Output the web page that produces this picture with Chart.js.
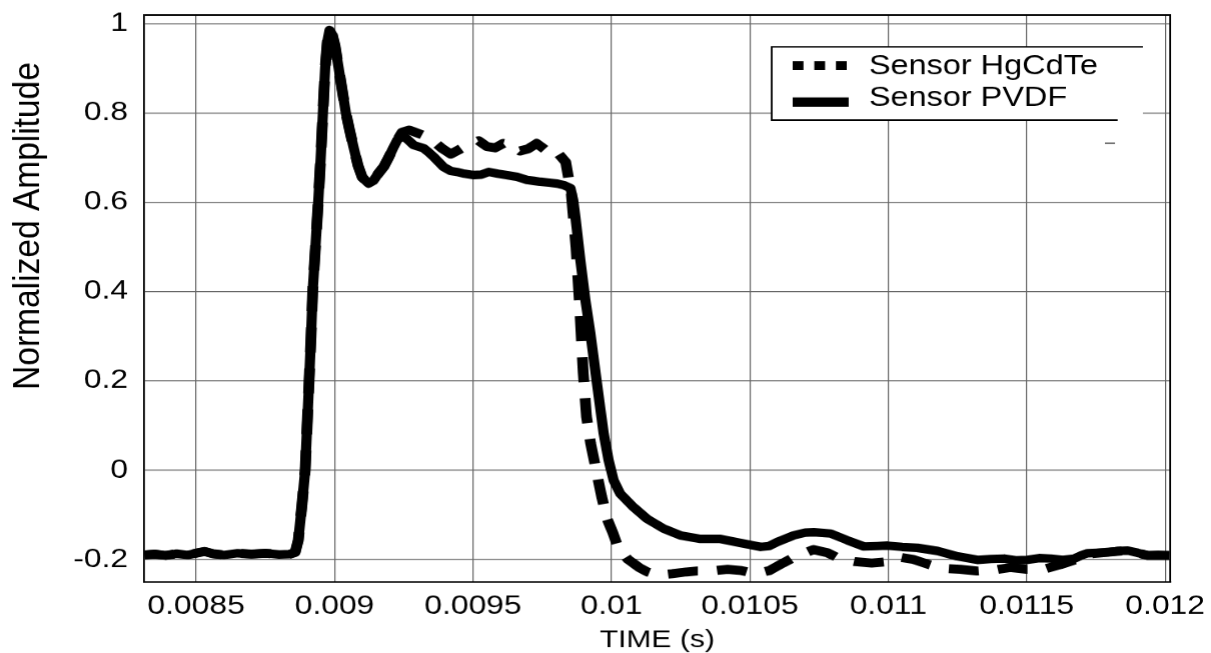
<!DOCTYPE html>
<html>
<head>
<meta charset="utf-8">
<script src="https://cdn.jsdelivr.net/npm/chart.js@4/dist/chart.umd.min.js"></script>
<style>
html,body{margin:0;padding:0;background:#fff;overflow:hidden;}
#wrap{width:1009px;height:653px;transform:scaleX(1.200198);transform-origin:0 0;}
#c{display:block;width:1009px;height:653px;}
</style>
</head>
<body>
<div id="wrap"><canvas id="c" width="1009" height="653"></canvas></div>
<script>
const xTicks = [0.0085, 0.009, 0.0095, 0.01, 0.0105, 0.011, 0.0115, 0.012];
const xTickLabels = ['0.0085', '0.009', '0.0095', '0.01', '0.0105', '0.011', '0.0115', '0.012'];
const yTicks = [-0.2, 0, 0.2, 0.4, 0.6, 0.8, 1];
const yTickLabels = ['-0.2', '0', '0.2', '0.4', '0.6', '0.8', '1'];
const xTitle = 'TIME (s)';
const yTitle = 'Normalized Amplitude';
const seriesNames = ['Sensor HgCdTe', 'Sensor PVDF'];

const pvdfTime = [0.008313,0.008350,0.008390,0.008430,0.008470,0.008500,0.008530,0.008560,0.008600,0.008650,0.008700,0.008750,0.008800,0.008840,0.008858,0.008869,0.008882,0.008894,0.008901,0.008908,0.008915,0.008921,0.008931,0.008941,0.008950,0.008958,0.008966,0.008974,0.008982,0.008992,0.009002,0.009014,0.009028,0.009041,0.009055,0.009070,0.009085,0.009100,0.009123,0.009140,0.009159,0.009178,0.009195,0.009212,0.009226,0.009244,0.009265,0.009286,0.009322,0.009340,0.009358,0.009394,0.009420,0.009442,0.009470,0.009503,0.009530,0.009557,0.009590,0.009623,0.009659,0.009695,0.009720,0.009743,0.009775,0.009804,0.009830,0.009852,0.009862,0.009870,0.009888,0.009906,0.009924,0.009948,0.009972,0.009990,0.010008,0.010032,0.010080,0.010129,0.010189,0.010249,0.010322,0.010394,0.010466,0.010539,0.010570,0.010599,0.010659,0.010700,0.010731,0.010792,0.010852,0.010912,0.010960,0.010997,0.011050,0.011105,0.011178,0.011250,0.011322,0.011370,0.011418,0.011460,0.011503,0.011545,0.011587,0.011630,0.011672,0.011700,0.011720,0.011792,0.011830,0.011865,0.011900,0.011937,0.011975,0.012015];
const pvdfAmp = [-0.190,-0.188,-0.191,-0.187,-0.190,-0.186,-0.182,-0.187,-0.190,-0.186,-0.188,-0.186,-0.189,-0.188,-0.184,-0.157,-0.080,0.000,0.100,0.200,0.300,0.400,0.500,0.600,0.700,0.800,0.900,0.960,0.986,0.975,0.950,0.904,0.850,0.800,0.760,0.720,0.682,0.656,0.642,0.648,0.665,0.680,0.700,0.722,0.739,0.750,0.740,0.728,0.721,0.712,0.702,0.679,0.670,0.668,0.664,0.661,0.662,0.668,0.664,0.661,0.657,0.650,0.648,0.646,0.644,0.642,0.638,0.632,0.605,0.567,0.470,0.381,0.307,0.194,0.082,0.022,-0.023,-0.053,-0.083,-0.109,-0.131,-0.146,-0.154,-0.154,-0.163,-0.172,-0.170,-0.161,-0.146,-0.140,-0.139,-0.142,-0.157,-0.171,-0.170,-0.169,-0.172,-0.174,-0.181,-0.193,-0.201,-0.199,-0.198,-0.202,-0.201,-0.197,-0.198,-0.201,-0.198,-0.190,-0.186,-0.184,-0.181,-0.180,-0.185,-0.191,-0.190,-0.191];

const hgTime = [0.008313,0.008350,0.008390,0.008430,0.008470,0.008500,0.008530,0.008560,0.008600,0.008650,0.008700,0.008750,0.008800,0.008840,0.008858,0.008869,0.008882,0.008894,0.008901,0.008908,0.008915,0.008921,0.008931,0.008941,0.008950,0.008958,0.008966,0.008974,0.008982,0.008992,0.009002,0.009014,0.009028,0.009041,0.009055,0.009070,0.009085,0.009100,0.009123,0.009140,0.009159,0.009178,0.009195,0.009212,0.009226,0.009244,0.009270,0.009300,0.009330,0.009360,0.009390,0.009420,0.009450,0.009480,0.009520,0.009550,0.009580,0.009610,0.009640,0.009670,0.009700,0.009730,0.009760,0.009790,0.009810,0.009835,0.009855,0.009872,0.009885,0.009898,0.009910,0.009925,0.009945,0.009965,0.009985,0.010005,0.010025,0.010060,0.010100,0.010130,0.010170,0.010220,0.010270,0.010310,0.010360,0.010420,0.010470,0.010520,0.010570,0.010620,0.010670,0.010730,0.010780,0.010830,0.010880,0.010940,0.011000,0.011040,0.011090,0.011150,0.011200,0.011260,0.011320,0.011380,0.011440,0.011500,0.011560,0.011620,0.011680,0.011720,0.011792,0.011865,0.011937,0.012015];
const hgAmp = [-0.190,-0.188,-0.191,-0.187,-0.190,-0.186,-0.182,-0.187,-0.190,-0.186,-0.188,-0.186,-0.189,-0.188,-0.184,-0.157,-0.080,0.000,0.100,0.200,0.300,0.400,0.500,0.600,0.700,0.800,0.900,0.960,0.986,0.975,0.950,0.904,0.850,0.800,0.760,0.720,0.682,0.656,0.642,0.648,0.665,0.680,0.700,0.722,0.739,0.757,0.762,0.755,0.748,0.735,0.720,0.708,0.718,0.728,0.738,0.725,0.722,0.732,0.728,0.715,0.720,0.732,0.718,0.702,0.708,0.690,0.620,0.500,0.370,0.220,0.120,0.060,0.000,-0.060,-0.110,-0.140,-0.175,-0.200,-0.218,-0.228,-0.235,-0.232,-0.228,-0.226,-0.226,-0.222,-0.225,-0.232,-0.225,-0.208,-0.192,-0.178,-0.185,-0.200,-0.205,-0.208,-0.205,-0.195,-0.200,-0.212,-0.220,-0.222,-0.226,-0.224,-0.218,-0.222,-0.222,-0.212,-0.200,-0.188,-0.184,-0.180,-0.191,-0.191];

const FONT = "'Liberation Sans', Arial, Helvetica, sans-serif";

const framePlugin = {
  id: 'frame',
  beforeDatasetsDraw(chart) {
    const a = chart.chartArea, ctx = chart.ctx;
    ctx.save();
    ctx.strokeStyle = '#000';
    ctx.lineWidth = 1.5;
    ctx.beginPath();
    ctx.moveTo(a.left, a.top); ctx.lineTo(a.right, a.top); ctx.lineTo(a.right, a.bottom);
    ctx.stroke();
    ctx.restore();
  }
};

const yTitlePlugin = {
  id: 'yTitle',
  afterDraw(chart) {
    const ctx = chart.ctx;
    ctx.save();
    ctx.translate(23.6, 225.8);
    ctx.rotate(-Math.PI / 2);
    ctx.scale(1.08, 1);
    ctx.font = "31px " + FONT;
    ctx.fillStyle = '#000';
    ctx.textAlign = 'center';
    ctx.textBaseline = 'middle';
    ctx.fillText(yTitle, 0, 0);
    ctx.restore();
  }
};

const boxLegendPlugin = {
  id: 'boxLegend',
  afterDraw(chart) {
    const ctx = chart.ctx;
    const ds = chart.data.datasets;
    const L = 642.5, T = 46.7, B = 120, RT = 951.6, RB = 930.6;
    ctx.save();
    ctx.fillStyle = '#fff';
    ctx.fillRect(L, T, RT - L, B - T);
    ctx.strokeStyle = '#000';
    ctx.lineWidth = 1.5;
    ctx.beginPath();
    ctx.moveTo(RT, T); ctx.lineTo(L, T); ctx.lineTo(L, B); ctx.lineTo(RB, B);
    ctx.stroke();
    ctx.lineWidth = 1;
    ctx.beginPath(); ctx.moveTo(920, 143); ctx.lineTo(928.4, 143); ctx.stroke();
    const rows = [65.5, 102];
    const textRows = [66.5, 98.5];
    ds.forEach((d, i) => {
      ctx.save();
      ctx.strokeStyle = d.borderColor;
      ctx.lineWidth = i === 0 ? 9 : 9.5;
      ctx.lineCap = 'butt';
      ctx.setLineDash(i === 0 ? [9, 9] : []);
      ctx.beginPath();
      ctx.moveTo(660, rows[i]);
      ctx.lineTo(i === 0 ? 705 : 706.6, rows[i]);
      ctx.stroke();
      ctx.restore();
      ctx.font = "27px " + FONT;
      ctx.fillStyle = '#000';
      ctx.textAlign = 'left';
      ctx.textBaseline = 'middle';
      ctx.fillText(d.label, 723.5, textRows[i]);
    });
    ctx.restore();
  }
};

new Chart(document.getElementById('c'), {
  type: 'line',
  data: {
    datasets: [
      {
        label: seriesNames[0],
        data: hgTime.map((t, i) => ({x: t, y: hgAmp[i]})),
        borderColor: '#000',
        borderWidth: 9,
        borderDash: [25, 16],
        borderCapStyle: 'butt',
        borderJoinStyle: 'round',
        pointRadius: 0,
        tension: 0,
        fill: false
      },
      {
        label: seriesNames[1],
        data: pvdfTime.map((t, i) => ({x: t, y: pvdfAmp[i]})),
        borderColor: '#000',
        borderWidth: 8.5,
        borderCapStyle: 'butt',
        borderJoinStyle: 'round',
        pointRadius: 0,
        tension: 0,
        fill: false
      }
    ]
  },
  options: {
    responsive: false,
    animation: false,
    devicePixelRatio: 1.2,
    layout: {padding: {left: 0, top: 15, right: 34.7, bottom: 0}},
    plugins: {legend: {display: false}, tooltip: {enabled: false}},
    scales: {
      x: {
        type: 'linear',
        min: 0.0083131,
        max: 0.0120181,
        afterBuildTicks(s) { s.ticks = xTicks.map(v => ({value: v})); },
        afterFit(s) { s.height = 71.3; s.paddingLeft = 0; s.paddingRight = 0; },
        ticks: {
          autoSkip: false,
          maxRotation: 0,
          padding: 8.4,
          color: '#000',
          font: {size: 26.5, family: FONT},
          callback: (v, i) => xTickLabels[i]
        },
        grid: {color: '#666', lineWidth: 1, drawTicks: false},
        border: {display: true, color: '#000', width: 1.5},
        title: {display: true, text: xTitle, color: '#000', font: {size: 25, family: FONT, lineHeight: 1.04}, padding: {top: 0, bottom: 0}}
      },
      y: {
        type: 'linear',
        min: -0.2509,
        max: 1.0195,
        afterBuildTicks(s) { s.ticks = yTicks.map(v => ({value: v})); },
        afterFit(s) { s.width = 120.2; s.paddingTop = 0; s.paddingBottom = 0; },
        ticks: {
          autoSkip: false,
          padding: 13.5,
          color: '#000',
          font: {size: 26.5, family: FONT},
          callback: (v, i) => yTickLabels[i]
        },
        grid: {color: '#666', lineWidth: 1, drawTicks: false},
        border: {display: true, color: '#000', width: 1.5}
      }
    }
  },
  plugins: [framePlugin, yTitlePlugin, boxLegendPlugin]
});
</script>
</body>
</html>
